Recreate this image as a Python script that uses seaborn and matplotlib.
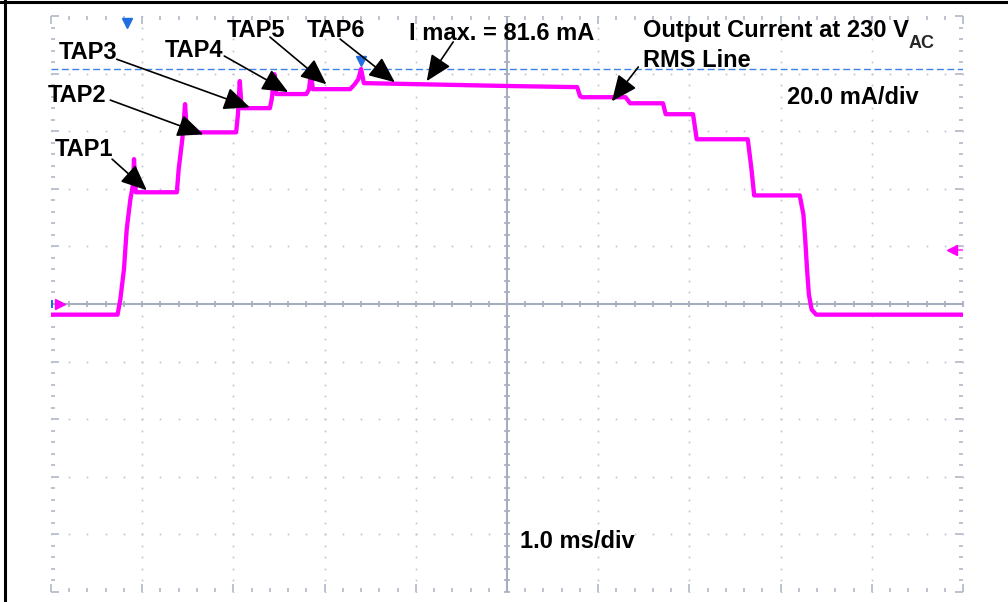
import numpy as np
import pandas as pd
import matplotlib.pyplot as plt
from matplotlib.lines import Line2D
import seaborn as sns

# scope trace: time in ms (1.0 ms/div), current in mA (20 mA/div)
time_ms = [-5.0, -4.27, -4.24, -4.20, -4.17, -4.13, -4.10, -4.09, -4.07, -3.62,
           -3.60, -3.56, -3.53, -3.51, -2.97, -2.95, -2.93, -2.91, -2.60, -2.58,
           -2.55, -2.53, -2.20, -2.17, -2.15, -2.13, -1.72, -1.67, -1.63, -1.60,
           -1.57, 0.0, 0.77, 0.80, 0.82, 1.30, 1.35, 1.71, 1.74, 2.04,
           2.08, 2.64, 2.68, 2.71, 3.21, 3.25, 3.27, 3.29, 3.31, 3.34,
           3.39, 5.0]
current_mA = [-3.7, -3.7, 1.6, 12.0, 25.9, 36.3, 41.6, 50.3, 38.8, 38.8,
              46.8, 57.2, 69.4, 59.6, 59.6, 65.9, 77.4, 68.0, 68.0, 71.1,
              79.8, 72.9, 72.9, 74.6, 80.9, 74.6, 74.6, 76.3, 78.1, 81.6,
              76.7, 75.7, 75.3, 72.2, 71.8, 71.8, 69.7, 69.7, 65.9, 65.9,
              57.2, 57.2, 47.0, 37.7, 37.7, 31.1, 22.4, 12.0, 3.3, -1.9,
              -3.7, -3.7]

i_max = 81.6
trig_level = 18.6
trig_time = -4.17
cursor_time = -1.60

tap_labels = ['TAP1', 'TAP2', 'TAP3', 'TAP4', 'TAP5', 'TAP6']
tap_text_xy = [(-4.64, 51.3), (-4.71, 70.1), (-4.59, 85.0),
               (-3.43, 85.7), (-2.75, 92.7), (-1.87, 92.7)]
tap_arrow_from = [(-4.33, 50.3), (-4.35, 70.8), (-4.28, 85.0),
                  (-3.10, 86.1), (-2.60, 92.7), (-1.83, 92.0)]
tap_arrow_to = [(-3.95, 39.5), (-3.33, 58.9), (-2.82, 68.3),
                (-2.40, 73.6), (-1.98, 76.3), (-1.23, 77.0)]

sns.set_style('white')
plt.rcParams['font.family'] = ['Liberation Sans', 'DejaVu Sans']

fig = plt.figure(figsize=(10.08, 6.02), dpi=100)
ax = fig.add_axes([51 / 1008, 1 - 592 / 602, 912 / 1008, 576 / 602])
ax.set_xlim(-5, 5)
ax.set_ylim(-100, 100)
for s in ax.spines.values():
    s.set_visible(False)

gcol = '#a6adbf'
# graticule: dotted major lines, solid centre axes with small ticks
minor_x = np.round(np.arange(-5, 5.001, 0.2), 2)
minor_y = np.round(np.arange(-100, 100.01, 4), 1)
for gx in range(-4, 5):
    if gx != 0:
        ax.plot([gx] * len(minor_y), minor_y, ls='none', marker='s', ms=1.2,
                mew=0, color='#bcc2cf', zorder=1)
for gy in range(-80, 81, 20):
    if gy != 0:
        ax.plot(minor_x, [gy] * len(minor_x), ls='none', marker='s', ms=1.2,
                mew=0, color='#bcc2cf', zorder=1)
ax.axhline(0, color=gcol, lw=1.5, zorder=1)
ax.axvline(0, color=gcol, lw=1.5, zorder=1)
ax.plot(minor_x, np.zeros(len(minor_x)), ls='none', marker='|', ms=4.5,
        mew=1.2, color=gcol, zorder=1)
ax.plot(np.zeros(len(minor_y)), minor_y, ls='none', marker='_', ms=4.5,
        mew=1.2, color=gcol, zorder=1)

ax.set_xticks(np.arange(-5, 5.01, 1))
ax.set_xticks(minor_x, minor=True)
ax.set_yticks(np.arange(-100, 100.1, 20))
ax.set_yticks(minor_y, minor=True)
ax.tick_params(which='both', direction='in', top=True, right=True, bottom=True,
               left=True, labelbottom=False, labelleft=False, color='#b0b7c7', width=1.2)
ax.tick_params(which='major', length=6)
ax.tick_params(which='minor', length=3)

# max cursor line
ax.axhline(i_max, color='#3f82ea', lw=1.0, dashes=(5, 2.5), zorder=2)

trace = pd.DataFrame({'t': time_ms, 'i': current_mA})
sns.lineplot(data=trace, x='t', y='i', ax=ax, color='#ff00ff', lw=3.1,
             sort=False, estimator=None, zorder=3)
ax.set_xlabel('')
ax.set_ylabel('')

# channel / trigger markers
ax.plot([-4.9], [0], marker='>', ms=7, color='#ff00ff', clip_on=False, zorder=4)
ax.plot([-4.99], [0], marker='|', ms=6, mew=1.5, color='#1f6fe0', clip_on=False, zorder=4)
ax.plot([4.88, 5.0], [trig_level, trig_level], color='#ff55ff', lw=1.5, zorder=4)
ax.plot([4.88], [trig_level], marker='<', ms=7, color='#ff00ff', zorder=4)
ax.plot([trig_time], [97.4], marker='v', ms=7, color='#1f6fe0', clip_on=False, zorder=4)
ax.plot([cursor_time], [84.3], marker='v', ms=7, color='#1f6fe0', zorder=4)

fkw = dict(fontsize=17, fontweight='bold', color='black')
arw = dict(arrowstyle='-|>,head_length=0.8,head_width=0.35', color='black',
           lw=1.2, shrinkA=0, shrinkB=0, mutation_scale=20)

for lab, txy, a0, a1 in zip(tap_labels, tap_text_xy, tap_arrow_from, tap_arrow_to):
    ax.text(txy[0], txy[1], lab, ha='center', va='baseline', zorder=5, **fkw)
    ax.annotate('', xy=a1, xytext=a0, arrowprops=arw, zorder=5)

ax.text(-0.06, 91.7, 'I max. = %.1f mA' % i_max, ha='center', va='baseline', zorder=5, **fkw)
ax.annotate('', xy=(-0.88, 77.4), xytext=(-0.59, 91.0), arrowprops=arw, zorder=5)

t1 = ax.text(1.49, 92.7, 'Output Current at 230 V', ha='left', va='baseline', zorder=5, **fkw)
ax.annotate('AC', xy=(1, 0), xycoords=t1, xytext=(0, -4), textcoords='offset points',
            ha='left', va='baseline', fontsize=13, fontweight='bold', zorder=5)
ax.text(1.49, 82.3, 'RMS Line', ha='left', va='baseline', zorder=5, **fkw)
ax.annotate('', xy=(1.15, 70.4), xytext=(1.44, 82.3), arrowprops=arw, zorder=5)

ax.text(3.79, 69.4, '20.0 mA/div', ha='center', va='baseline', zorder=5, **fkw)
ax.text(0.77, -84.7, '1.0 ms/div', ha='center', va='baseline', zorder=5, **fkw)

# outer frame (left and top edges of the screenshot)
fig.add_artist(Line2D([4.5 / 1008, 4.5 / 1008], [0, 1], transform=fig.transFigure,
                      color='black', lw=2.2))
fig.add_artist(Line2D([0, 1], [1 - 1.5 / 602, 1 - 1.5 / 602], transform=fig.transFigure,
                      color='black', lw=2.2))

fig.savefig('out.png', dpi=100)
